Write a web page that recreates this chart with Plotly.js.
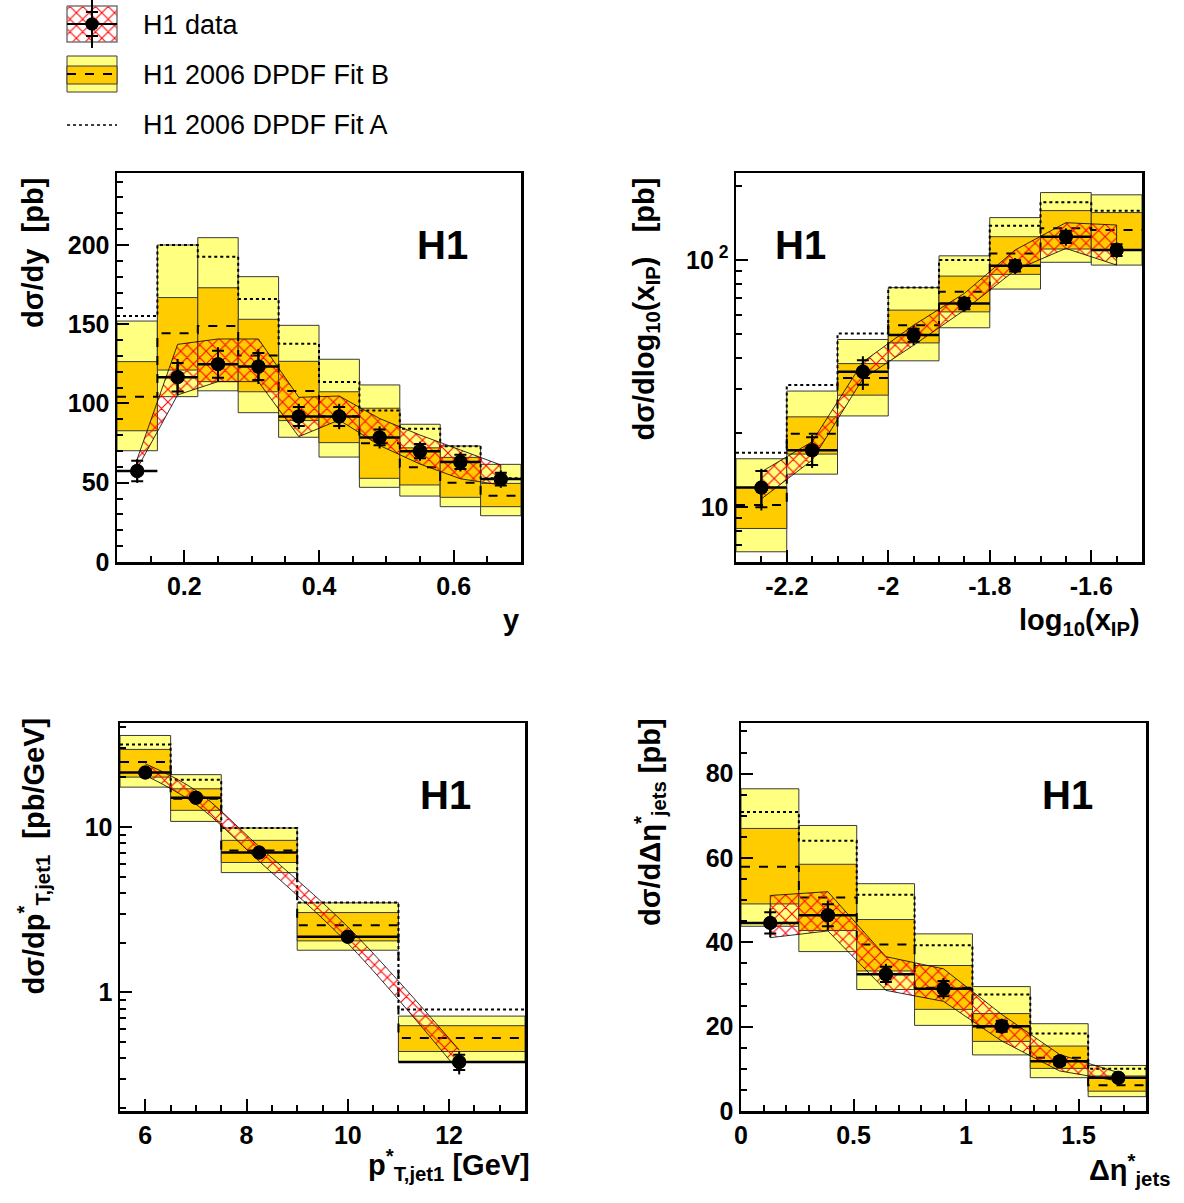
<!DOCTYPE html>
<html>
<head>
<meta charset="utf-8">
<script src="https://cdn.plot.ly/plotly-3.0.1.min.js"></script>
<style>html,body{margin:0;padding:0;background:#fff;}#chart{width:1184px;height:1203px;}</style>
</head>
<body>
<div id="chart"></div>
<script>
// ---------- Panel 1: d sigma / dy ----------
const yBinEdges   = [0.10,0.16,0.22,0.28,0.34,0.40,0.46,0.52,0.58,0.64,0.70];
const yDataX      = [0.13,0.19,0.25,0.31,0.37,0.43,0.49,0.55,0.61,0.67];
const yDataVal    = [57.4,116.6,124.8,123.3,91.8,91.8,78.6,69.9,63.1,52.3];
const yDataTot    = [7.5,11.5,10.7,11.0,8.0,8.0,7.0,6.0,6.0,5.5];
const yDataStat   = [6.5,9.0,8.5,8.5,6.0,6.0,5.0,4.5,4.5,4.0];
const yBandUp     = [65,137.3,140.7,140.7,103.9,104.7,90.5,80.1,70.7,61.2];
const yBandLo     = [59,105.4,113.8,113.8,79.1,89.6,73.5,61.8,52.5,48.6];
const yFitBLightTop = [152,200,204.6,180,149.3,127.9,111.7,86.9,73.2,61.6];
const yFitBOrangeTop= [126.4,166.8,173,153.1,126.6,107.4,97,72,66,49.6];
const yFitB         = [104.3,144.3,148.9,130.2,107.9,92,74.9,59.7,50,41.8];
const yFitBOrangeBot= [82.8,121.1,113.8,107.4,89.2,75.3,52.8,48.6,40.8,34.9];
const yFitBLightBot = [70.2,104.3,108,94.2,78.7,66.2,47.1,41.6,34.9,29.2];
const yFitA         = [155.2,200,192.6,165.9,137.7,113.6,95.5,84,73,52.8];

// ---------- Panel 2: d sigma / d log10(xIP) ----------
const xpBinEdges  = [-2.3,-2.2,-2.1,-2.0,-1.9,-1.8,-1.7,-1.6,-1.5];
const xpDataX     = [-2.25,-2.15,-2.05,-1.95,-1.85,-1.75,-1.65,-1.55];
const xpDataVal   = [12.0,17.0,35.3,49.7,66.7,94.8,124.3,109.8];
const xpDataTot   = [2.3,2.6,5.5,4.5,5,7,10,8];
const xpDataStat  = [2.0,2.2,4.0,3.0,3.5,5,7,6];
const xpBandUp    = [13.9,18.4,38.7,54.5,73.3,109.8,141.6,138.6];
const xpBandLo    = [10.8,15.5,33.1,45.2,62.7,91.0,111.4,95.4];
const xpFitBLightTop = [15.7,29.5,47.7,77.3,104,148.5,187.5,183.6];
const xpFitBOrangeTop= [12.0,23.2,38.1,62.7,86.1,124.3,158.5,155.6];
const xpFitB         = [10.2,19.8,33.3,54.5,74.4,106.4,134.4,132.3];
const xpFitBOrangeBot= [8.2,16.4,28.4,46.2,61.7,87.5,110.8,109.8];
const xpFitBLightBot = [6.6,13.6,23.4,39.1,53.2,76.3,97.9,95.4];
const xpFitA         = [16.6,31.2,50.4,77.5,100,137.5,171.5,158.2];

// ---------- Panel 3: d sigma / d pT*jet1 ----------
const ptBinEdges  = [5.5,6.5,7.5,9.0,11.0,13.5];
const ptDataX     = [6.0,7.0,8.25,10.0,12.2];
const ptDataVal   = [21.3,15.0,7.0,2.17,0.38];
const ptDataTot   = [1.0,0.7,0.3,0.1,0.06];
const ptDataStat  = [0.6,0.4,0.2,0.07,0.04];
const ptBandUp    = [24.1,16.6,7.6,2.49,0.449];
const ptBandLo    = [20.5,13.7,6.2,1.98,0.332];
const ptFitBLightTop = [35.7,20.7,9.86,3.48,0.72];
const ptFitBOrangeTop= [29.4,17.0,8.3,3.04,0.63];
const ptFitB         = [24.7,14.8,7.2,2.55,0.53];
const ptFitBOrangeBot= [20.0,12.6,6.1,2.05,0.44];
const ptFitBLightBot = [17.4,10.8,5.3,1.8,0.38];
const ptFitA         = [31.5,19.3,9.86,3.5,0.79];

// ---------- Panel 4: d sigma / d delta eta*jets ----------
const deBinEdges  = [0,0.2571,0.5143,0.7714,1.0286,1.2857,1.5429,1.8];
const deDataX     = [0.13,0.386,0.644,0.90,1.159,1.416,1.677];
const deDataVal   = [44.6,46.4,32.4,29.0,20.1,11.8,7.9];
const deDataTot   = [3.4,3.5,2.5,2.5,1.8,1.2,1.0];
const deDataStat  = [2.5,2.6,1.8,1.8,1.3,0.9,0.7];
const deBandUp    = [51.1,52.0,36.6,33.7,22.9,13.4,9.1];
const deBandLo    = [41.1,42.7,28.6,26.0,16.6,9.5,7.1];
const deFitBLightTop = [76.4,67.7,53.9,42,29.5,20.7,10.8];
const deFitBOrangeTop= [67,58.5,45.4,34.5,23.1,15.4,8.3];
const deFitB         = [57.9,50.6,39.5,29.2,19.8,12.6,6.1];
const deFitBOrangeBot= [49.1,42.8,33.2,24.1,16.5,10.1,4.7];
const deFitBLightBot = [43.8,37.8,28.8,20.3,13.3,7.9,3.4];
const deFitA         = [70.9,64.1,51.3,39.3,27.6,18.4,10.0];

// ---------- Legend labels ----------
const legendLabels = ["H1 data","H1 2006 DPDF Fit B","H1 2006 DPDF Fit A"];

const W = 1184, H = 1203;
const FONT = "Liberation Sans, Arial, Helvetica, sans-serif";
const LIGHT = "#FFFF80", ORANGE = "#FFCC00", EDGE = "#3a3a3a";
const fx = p => p / W;
const fy = p => 1 - p / H;

const traces = [];
const hatch = {shape: 'x', fgcolor: '#FF0000', bgcolor: 'rgba(0,0,0,0)', size: 9, solidity: 0.22};

function panel(ax, edges, xs, vals, tot, stat, bUp, bLo, lt, ot, fb, ob, lb, fa, smooth) {
  const xa = ax === 1 ? 'x' : 'x' + ax;
  const ya = ax === 1 ? 'y' : 'y' + ax;
  const centers = edges.slice(0, -1).map((e, i) => (e + edges[i + 1]) / 2);
  const widths = edges.slice(0, -1).map((e, i) => edges[i + 1] - e);
  const base = {xaxis: xa, yaxis: ya, hoverinfo: 'skip', showlegend: false};
  traces.push(Object.assign({}, base, {
    type: 'bar', x: centers, width: widths, base: lb, y: lt.map((v, i) => v - lb[i]),
    marker: {color: LIGHT, opacity: 1, line: {color: EDGE, width: 1}}
  }));
  traces.push(Object.assign({}, base, {
    type: 'bar', x: centers, width: widths, base: ob, y: ot.map((v, i) => v - ob[i]),
    marker: {color: ORANGE, opacity: 1, line: {color: EDGE, width: 1}}
  }));
  traces.push(Object.assign({}, base, {
    type: 'scatter', mode: 'lines', x: edges, y: fa.concat([fa[fa.length - 1]]),
    line: {shape: 'hv', color: 'black', width: 2, dash: 'dot'}
  }));
  traces.push(Object.assign({}, base, {
    type: 'scatter', mode: 'lines', x: edges, y: fb.concat([fb[fb.length - 1]]),
    line: {shape: 'hv', color: 'black', width: 2, dash: 'dash'}
  }));
  if (smooth) {
    traces.push(Object.assign({}, base, {
      type: 'scatter', mode: 'lines', x: xs, y: bLo,
      line: {shape: 'spline', color: 'black', width: 0.8}
    }));
    traces.push(Object.assign({}, base, {
      type: 'scatter', mode: 'lines', x: xs, y: bUp, fill: 'tonexty',
      fillcolor: 'rgba(0,0,0,0)', fillpattern: hatch,
      line: {shape: 'spline', color: 'black', width: 0.8}
    }));
  } else {
    traces.push(Object.assign({}, base, {
      type: 'scatter', mode: 'lines',
      x: xs.concat(xs.slice().reverse(), [xs[0]]),
      y: bUp.concat(bLo.slice().reverse(), [bUp[0]]),
      fill: 'toself', fillcolor: 'rgba(0,0,0,0)', fillpattern: hatch,
      line: {color: 'black', width: 0.8}
    }));
  }
  const binIdx = xs.map(x => edges.findIndex((e, i) => i < edges.length - 1 && x >= e && x < edges[i + 1]));
  traces.push(Object.assign({}, base, {
    type: 'scatter', mode: 'markers', x: xs, y: vals,
    marker: {symbol: 'circle', size: 14, color: 'black'},
    error_y: {type: 'data', array: tot, width: 0, thickness: 2, color: 'black'},
    error_x: {type: 'data', symmetric: false,
      array: xs.map((x, i) => edges[binIdx[i] + 1] - x),
      arrayminus: xs.map((x, i) => x - edges[binIdx[i]]),
      width: 0, thickness: 2.5, color: 'black'}
  }));
  traces.push(Object.assign({}, base, {
    type: 'scatter', mode: 'markers', x: xs, y: vals,
    marker: {symbol: 'circle', size: 14, color: 'black'},
    error_y: {type: 'data', array: stat, width: 6, thickness: 2, color: 'black'}
  }));
}

panel(1, yBinEdges, yDataX, yDataVal, yDataTot, yDataStat, yBandUp, yBandLo,
      yFitBLightTop, yFitBOrangeTop, yFitB, yFitBOrangeBot, yFitBLightBot, yFitA, false);
panel(2, xpBinEdges, xpDataX, xpDataVal, xpDataTot, xpDataStat, xpBandUp, xpBandLo,
      xpFitBLightTop, xpFitBOrangeTop, xpFitB, xpFitBOrangeBot, xpFitBLightBot, xpFitA, false);
panel(3, ptBinEdges, ptDataX, ptDataVal, ptDataTot, ptDataStat, ptBandUp, ptBandLo,
      ptFitBLightTop, ptFitBOrangeTop, ptFitB, ptFitBOrangeBot, ptFitBLightBot, ptFitA, true);
panel(4, deBinEdges, deDataX, deDataVal, deDataTot, deDataStat, deBandUp, deBandLo,
      deFitBLightTop, deFitBOrangeTop, deFitB, deFitBOrangeBot, deFitBLightBot, deFitA, false);

// ---------- Legend glyphs (own hidden axis, 1 unit = 1 px) ----------
const lg = {xaxis: 'x5', yaxis: 'y5', hoverinfo: 'skip', showlegend: false};
traces.push(Object.assign({}, lg, {type: 'scatter', mode: 'lines', x: [67,117,117,67,67], y: [6,6,42,42,6],
  fill: 'toself', fillcolor: 'white',
  fillpattern: {shape: 'x', fgcolor: '#FF0000', bgcolor: 'white', size: 9, solidity: 0.22},
  line: {color: '#777', width: 1.5}}));
traces.push(Object.assign({}, lg, {type: 'scatter', mode: 'lines', x: [67,117], y: [24,24], line: {color: 'black', width: 2}}));
traces.push(Object.assign({}, lg, {type: 'scatter', mode: 'markers', x: [92], y: [24],
  marker: {size: 13, color: 'black'},
  error_y: {type: 'data', array: [24], width: 0, thickness: 2, color: 'black'}}));
traces.push(Object.assign({}, lg, {type: 'scatter', mode: 'markers', x: [92], y: [24],
  marker: {size: 13, color: 'black'},
  error_y: {type: 'data', array: [12], width: 6, thickness: 2, color: 'black'}}));
traces.push(Object.assign({}, lg, {type: 'scatter', mode: 'lines', x: [67,117,117,67,67], y: [56,56,92,92,56],
  fill: 'toself', fillcolor: LIGHT, line: {color: EDGE, width: 1}}));
traces.push(Object.assign({}, lg, {type: 'scatter', mode: 'lines', x: [67,117,117,67,67], y: [66,66,84,84,66],
  fill: 'toself', fillcolor: ORANGE, line: {color: EDGE, width: 1}}));
traces.push(Object.assign({}, lg, {type: 'scatter', mode: 'lines', x: [67,117], y: [74,74], line: {color: 'black', width: 2, dash: 'dash'}}));
traces.push(Object.assign({}, lg, {type: 'scatter', mode: 'lines', x: [67,117], y: [125,125], line: {color: 'black', width: 1.5, dash: 'dot'}}));

// ---------- Axes ----------
const tickFont = {family: FONT, size: 25, color: 'black', weight: 'bold'};
function axis(dom, extra) {
  return Object.assign({
    domain: dom, showline: true, mirror: true, linecolor: 'black', linewidth: 2.5,
    ticks: 'inside', ticklen: 12, tickwidth: 2, tickcolor: 'black',
    showgrid: false, zeroline: false, tickfont: tickFont, fixedrange: true
  }, extra);
}
function minor(extra) { return Object.assign({ticks: 'inside', ticklen: 6, tickwidth: 2, tickcolor: 'black', showgrid: false}, extra); }

const logMinor2 = [6,7,8,9,20,30,40,50,60,70,80,90,200];
const logMinor3 = [0.2,0.3,0.4,0.5,0.6,0.7,0.8,0.9,2,3,4,5,6,7,8,9,20,30,40];

const layout = {
  width: W, height: H, margin: {l: 0, r: 0, t: 0, b: 0},
  paper_bgcolor: 'white', plot_bgcolor: 'white',
  barmode: 'overlay', hovermode: false, showlegend: false,
  font: {family: FONT, color: 'black', size: 20},
  xaxis: axis([fx(117), fx(521)], {anchor: 'y', range: [0.1, 0.7], tickmode: 'array',
    tickvals: [0.2,0.4,0.6], ticktext: ['0.2','0.4','0.6'], minor: minor({dtick: 0.05, tick0: 0})}),
  yaxis: axis([fy(562), fy(173)], {anchor: 'x', range: [0, 245.4], dtick: 50, tick0: 0,
    minor: minor({dtick: 10, tick0: 0})}),
  xaxis2: axis([fx(736), fx(1142)], {anchor: 'y2', range: [-2.3, -1.5], tickmode: 'array',
    tickvals: [-2.2,-2.0,-1.8,-1.6], ticktext: ['-2.2','-2','-1.8','-1.6'], minor: minor({dtick: 0.05, tick0: 0})}),
  yaxis2: axis([fy(562), fy(173)], {anchor: 'x2', type: 'log', range: [Math.log10(6.0), Math.log10(225)],
    tickmode: 'array', tickvals: [10, 100], ticktext: ['10', '10<sup> 2</sup>'],
    minor: minor({tickmode: 'array', tickvals: logMinor2})}),
  xaxis3: axis([fx(120), fx(525)], {anchor: 'y3', range: [5.5, 13.5], dtick: 2, tick0: 0,
    minor: minor({dtick: 0.5, tick0: 0})}),
  yaxis3: axis([fy(1111), fy(723)], {anchor: 'x3', type: 'log', range: [-0.716, 1.628],
    tickmode: 'array', tickvals: [1, 10], ticktext: ['1', '10'],
    minor: minor({tickmode: 'array', tickvals: logMinor3})}),
  xaxis4: axis([fx(741), fx(1146)], {anchor: 'y4', range: [0, 1.8], tickmode: 'array',
    tickvals: [0,0.5,1,1.5], ticktext: ['0','0.5','1','1.5'], minor: minor({dtick: 0.1, tick0: 0})}),
  yaxis4: axis([fy(1111), fy(723)], {anchor: 'x4', range: [0, 92], dtick: 20, tick0: 0,
    minor: minor({dtick: 5, tick0: 0})}),
  xaxis5: {domain: [0, 0.5], range: [0, 592], visible: false, fixedrange: true, anchor: 'y5'},
  yaxis5: {domain: [fy(140), 1], range: [140, 0], visible: false, fixedrange: true, anchor: 'x5'},
  annotations: []
};

const titleFont = {family: FONT, size: 29, color: 'black', weight: 'bold'};
const ann = layout.annotations;
function addAnn(o) { ann.push(Object.assign({xref: 'paper', yref: 'paper', showarrow: false}, o)); }
addAnn({text: 'dσ/dy  [pb]', textangle: -90, x: fx(33), y: fy(176), xanchor: 'center', yanchor: 'top', font: titleFont});
addAnn({text: 'dσ/dlog<sub>10</sub>(x<sub>IP</sub>)   [pb]', textangle: -90, x: fx(645), y: fy(176), xanchor: 'center', yanchor: 'top', font: titleFont});
addAnn({text: 'dσ/dp<sup>*</sup><sub>T,jet1</sub>  [pb/GeV]', textangle: -90, x: fx(33), y: fy(716), xanchor: 'center', yanchor: 'top', font: titleFont});
addAnn({text: 'dσ/dΔη<sup>*</sup><sub>jets</sub> [pb]', textangle: -90, x: fx(650), y: fy(716), xanchor: 'center', yanchor: 'top', font: titleFont});
addAnn({text: 'y', x: fx(521), y: fy(620), xanchor: 'right', yanchor: 'middle', font: titleFont});
addAnn({text: 'log<sub>10</sub>(x<sub>IP</sub>)', x: fx(1142), y: fy(622), xanchor: 'right', yanchor: 'middle', font: titleFont});
addAnn({text: 'p<sup>*</sup><sub>T,jet1</sub> [GeV]', x: fx(532), y: fy(1165), xanchor: 'right', yanchor: 'middle', font: titleFont});
addAnn({text: 'Δη<sup>*</sup><sub>jets</sub>', x: fx(1172), y: fy(1170), xanchor: 'right', yanchor: 'middle', font: titleFont});
const h1Font = {family: FONT, size: 40, color: 'black', weight: 'bold'};
addAnn({text: 'H1', x: fx(442), y: fy(245), xanchor: 'center', yanchor: 'middle', font: h1Font});
addAnn({text: 'H1', x: fx(800), y: fy(245), xanchor: 'center', yanchor: 'middle', font: h1Font});
addAnn({text: 'H1', x: fx(445), y: fy(795), xanchor: 'center', yanchor: 'middle', font: h1Font});
addAnn({text: 'H1', x: fx(1067), y: fy(795), xanchor: 'center', yanchor: 'middle', font: h1Font});
const legFont = {family: FONT, size: 27, color: 'black'};
[25, 75, 125].forEach((yy, i) => addAnn({text: legendLabels[i], x: fx(141), y: fy(yy), xanchor: 'left', yanchor: 'middle', font: legFont}));

Plotly.newPlot('chart', traces, layout, {staticPlot: true, displayModeBar: false});
</script>
</body>
</html>
